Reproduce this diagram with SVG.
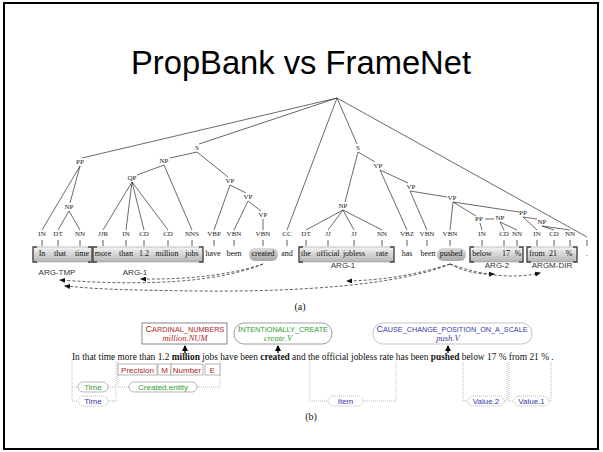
<svg xmlns="http://www.w3.org/2000/svg" width="603" height="452" viewBox="0 0 603 452">
<defs>
<linearGradient id="gb" x1="0" y1="0" x2="0" y2="1">
<stop offset="0" stop-color="#f4f4f4"/><stop offset="1" stop-color="#b4b4b4"/>
</linearGradient>
<linearGradient id="gp" x1="0" y1="0" x2="0" y2="1">
<stop offset="0" stop-color="#dcdcdc"/><stop offset="1" stop-color="#a8a8a8"/>
</linearGradient>
<marker id="ah" markerWidth="6" markerHeight="5" refX="5" refY="2.5" orient="auto" markerUnits="userSpaceOnUse">
<path d="M0,0 L6,2.5 L0,5 z" fill="#111"/>
</marker>
<marker id="ahb" markerWidth="6" markerHeight="6" refX="5" refY="3" orient="auto" markerUnits="userSpaceOnUse">
<path d="M0,0 L6,3 L0,6 z" fill="#000"/>
</marker>
</defs>
<style>
.title{font-family:"Liberation Sans",Arial,sans-serif;font-size:33px;fill:#000}
.tree{stroke:#3a3a3a;stroke-width:0.75;fill:none}
.nl{font-family:"Liberation Serif",serif;font-size:7px;fill:#222;text-anchor:middle}
.wd{font-family:"Liberation Serif",serif;font-size:8px;fill:#111;text-anchor:middle}
.tick{stroke:#333;stroke-width:0.8}
.box{fill:url(#gb);stroke:#999;stroke-width:0.6}
.brk{fill:none;stroke:#444;stroke-width:1.3}
.pill{fill:url(#gp);stroke:none}
.arg{font-family:"Liberation Sans",Arial,sans-serif;font-size:8px;fill:#333;text-anchor:middle}
.da{fill:none;stroke:#333;stroke-width:0.8;stroke-dasharray:3,2}
.cap{font-family:"Liberation Serif",serif;font-size:10px;fill:#111;text-anchor:middle}
.sent{font-family:"Liberation Serif",serif;font-size:9.4px;fill:#111}
.fr{font-family:"Liberation Sans",Arial,sans-serif;text-anchor:middle}
.lu{font-family:"Liberation Serif",serif;font-style:italic;font-size:8.5px;text-anchor:middle}
.dot{fill:none;stroke:#999;stroke-width:0.7;stroke-dasharray:1,1}
.fe{font-family:"Liberation Sans",Arial,sans-serif;font-size:8px;text-anchor:middle}
.feb{fill:#fff;stroke:#888;stroke-width:0.6}
.fep{fill:#fff;stroke:#888;stroke-width:0.6}
.fepd{fill:#fff;stroke:#999;stroke-width:0.7;stroke-dasharray:1,1}
.red{fill:#b02525}.grn{fill:#2e9e2e}.blu{fill:#3838a8}
</style>
<rect x="4" y="3" width="594" height="446" fill="#fff" stroke="#000" stroke-width="2"/>
<text class="title" x="131" y="74" textLength="340" lengthAdjust="spacingAndGlyphs">PropBank vs FrameNet</text>

<g id="connectors">
<g class="tree">
<path d="M337,98 L82,158 M337,98 L199,144 M337,98 L287,230 M337,98 L357,144 M337,98 L587,237"/>
<path d="M80,166 L42,230 M80,166 L70,203 M69,211 L58,230 M69,211 L80,230"/>
<path d="M197,152 L170,158 M197,152 L228,177 M164,165 L137,175 M164,165 L192,230"/>
<path d="M132,182 L103,230 M132,182 L126,230 M132,182 L144,230 M132,182 L168,230"/>
<path d="M230,185 L214,230 M230,185 L246,193 M248,201 L234,230 M248,201 L261,211 M263,219 L263,230"/>
<path d="M358,152 L345,202 M358,152 L375,162 M343,210 L306,230 M343,210 L328,230 M343,210 L354,230 M343,210 L382,230"/>
<path d="M380,170 L407,230 M380,170 L408,183 M410,191 L427,230 M410,191 L447,197"/>
<path d="M453,202 L450,230 M453,202 L476,216 M453,202 L519,212"/>
<path d="M480,223 L482,230 M485,219 L494,219 M500,222 L504,230 M500,222 L517,230"/>
<path d="M523,217 L537,219 M523,217 L537,230 M542,226 L554,230 M542,226 L570,230"/>
</g>
<g class="tick">
<path d="M42,240 V246 M58,240 V246 M80,240 V246 M103,240 V246 M126,240 V246 M144,240 V246 M168,240 V246 M192,240 V246 M214,240 V246 M234,240 V246 M263,240 V246 M287,240 V246 M306,240 V246 M328,240 V246 M354,240 V246 M382,240 V246 M407,240 V246 M427,240 V246 M450,240 V246 M482,240 V246 M504,240 V246 M517,240 V246 M537,240 V246 M554,240 V246 M570,240 V246 M587,240 V246"/>
</g>
<path class="da" d="M263,264 Q215,280 141,279" marker-end="url(#ah)"/>
<path class="da" d="M263,264 Q200,290 60,280" marker-end="url(#ah)"/>
<path class="da" d="M450,264 C400,285 300,292 200,291 S90,288 65,286" marker-end="url(#ah)"/>
<path class="da" d="M450,264 Q400,280 347,281" marker-end="url(#ah)"/>
<path class="da" d="M450,264 Q470,275 494,274" marker-end="url(#ah)"/>
<path class="da" d="M450,264 Q500,282 540,273" marker-end="url(#ah)"/>
<g stroke="#000" stroke-width="1.3">
<path d="M185,353 V346" marker-end="url(#ahb)"/>
<path d="M278,353 V346" marker-end="url(#ahb)"/>
<path d="M448,353 V346" marker-end="url(#ahb)"/>
</g>
<path class="dot" d="M72,361 V401 H78 M72,387 H78 M108,387 H116 M108,401 H116 V361"/>
<path class="dot" d="M118,361 V387 H129 M197,387 H220 V361"/>
<path class="dot" d="M310,361 V401 H328 M363,401 H396 V361"/>
<path class="dot" d="M463,362 V401 H468 M504,401 H507 V362"/>
<path class="dot" d="M509,362 V401 H514 M549,401 H551 V362"/>
</g>

<g id="tree-labels">
<text class="nl" x="80" y="164">PP</text>
<text class="nl" x="69" y="209">NP</text>
<text class="nl" x="197" y="150">S</text>
<text class="nl" x="164" y="163">NP</text>
<text class="nl" x="132" y="180">QP</text>
<text class="nl" x="230" y="183">VP</text>
<text class="nl" x="248" y="199">VP</text>
<text class="nl" x="263" y="217">VP</text>
<text class="nl" x="358" y="150">S</text>
<text class="nl" x="343" y="208">NP</text>
<text class="nl" x="378" y="168">VP</text>
<text class="nl" x="411" y="189">VP</text>
<text class="nl" x="452" y="200">VP</text>
<text class="nl" x="479" y="221">PP</text>
<text class="nl" x="500" y="220">NP</text>
<text class="nl" x="523" y="215">PP</text>
<text class="nl" x="542" y="224">NP</text>
<g class="nl">
<text x="42" y="236">IN</text><text x="58" y="236">DT</text><text x="80" y="236">NN</text>
<text x="103" y="236">JJR</text><text x="126" y="236">IN</text><text x="144" y="236">CD</text><text x="168" y="236">CD</text><text x="192" y="236">NNS</text>
<text x="214" y="236">VBP</text><text x="234" y="236">VBN</text><text x="263" y="236">VBN</text><text x="287" y="236">CC</text>
<text x="306" y="236">DT</text><text x="328" y="236">JJ</text><text x="354" y="236">JJ</text><text x="382" y="236">NN</text>
<text x="407" y="236">VBZ</text><text x="427" y="236">VBN</text><text x="450" y="236">VBN</text>
<text x="482" y="236">IN</text><text x="504" y="236">CD</text><text x="517" y="236">NN</text>
<text x="537" y="236">IN</text><text x="554" y="236">CD</text><text x="570" y="236">NN</text>
</g>
</g>

<g id="arg-boxes">
<rect class="box" x="33" y="247" width="59" height="15"/>
<path class="brk" d="M37,247 H33 V262 H37 M88,247 H92 V262 H88"/>
<rect class="box" x="93" y="247" width="110" height="15"/>
<path class="brk" d="M97,247 H93 V262 H97 M199,247 H203 V262 H199"/>
<rect class="box" x="299" y="247" width="95" height="15"/>
<path class="brk" d="M303,247 H299 V262 H303 M390,247 H394 V262 H390"/>
<rect class="box" x="470" y="247" width="53" height="15"/>
<path class="brk" d="M474,247 H470 V262 H474 M519,247 H523 V262 H519"/>
<rect class="box" x="527" y="247" width="50" height="15"/>
<path class="brk" d="M531,247 H527 V262 H531 M573,247 H577 V262 H573"/>
<rect class="pill" x="249" y="248" width="29" height="13" rx="6"/>
<rect class="pill" x="437" y="248" width="29" height="13" rx="6"/>
</g>

<g id="words-a" class="wd">
<text x="42" y="256">In</text><text x="60" y="256">that</text><text x="82" y="256">time</text>
<text x="103" y="256">more</text><text x="126" y="256">than</text><text x="144" y="256">1.2</text><text x="167" y="256">million</text><text x="192" y="256">jobs</text>
<text x="213" y="256">have</text><text x="234" y="256">been</text><text x="263" y="256">created</text><text x="287" y="256">and</text>
<text x="306" y="256">the</text><text x="328" y="256">official</text><text x="354" y="256">jobless</text><text x="382" y="256">rate</text>
<text x="407" y="256">has</text><text x="428" y="256">been</text><text x="451" y="256">pushed</text>
<text x="482" y="256">below</text><text x="506" y="256">17</text><text x="518" y="256">%</text>
<text x="537" y="256">from</text><text x="553" y="256">21</text><text x="569" y="256">%</text><text x="587" y="256">.</text>
</g>

<g id="arg-labels" class="arg">
<text x="57" y="275">ARG-TMP</text>
<text x="135" y="275">ARG-1</text>
<text x="343" y="268">ARG-1</text>
<text x="497" y="268">ARG-2</text>
<text x="552" y="268">ARGM-DIR</text>
</g>
<text class="cap" x="300" y="310">(a)</text>

<g id="frame-cardinal">
<rect x="142" y="323" width="85" height="21" fill="#fff" stroke="#555" stroke-width="0.7"/>
<text class="fr red" x="185" y="332" textLength="79" lengthAdjust="spacingAndGlyphs"><tspan font-size="8.5">C</tspan><tspan font-size="6.8">ARDINAL_NUMBERS</tspan></text>
<text class="lu red" x="185" y="341">million.NUM</text>
</g>
<g id="frame-create">
<rect x="234" y="323" width="98" height="21" rx="10" fill="#fff" stroke="#777" stroke-width="0.7"/>
<text class="fr grn" x="283" y="332" textLength="90" lengthAdjust="spacingAndGlyphs"><tspan font-size="8.5">I</tspan><tspan font-size="6.8">NTENTIONALLY_CREATE</tspan></text>
<text class="lu grn" x="278" y="341">create.V</text>
</g>
<g id="frame-cause">
<rect x="373" y="323" width="159" height="21" rx="10" fill="#fff" stroke="#aaa" stroke-width="0.7"/>
<text class="fr blu" x="452" y="332" textLength="151" lengthAdjust="spacingAndGlyphs"><tspan font-size="8.5">C</tspan><tspan font-size="6.8">AUSE_CHANGE_POSITION_ON_A_SCALE</tspan></text>
<text class="lu blu" x="448" y="341">push.V</text>
</g>

<text class="sent" x="72" y="360">In that time more than 1.2 <tspan font-weight="bold">million</tspan> jobs have been <tspan font-weight="bold">created</tspan> and the official jobless rate has been <tspan font-weight="bold">pushed</tspan> below 17 % from 21 % .</text>

<g id="fe-cardinal">
<rect class="feb" x="118" y="364" width="39" height="11"/><text class="fe red" x="137.5" y="372.5">Precision</text>
<rect class="feb" x="158" y="364" width="13" height="11"/><text class="fe red" x="164.5" y="372.5">M</text>
<rect class="feb" x="171" y="364" width="32" height="11"/><text class="fe red" x="187" y="372.5">Number</text>
<rect class="feb" x="205" y="364" width="15" height="11"/><text class="fe red" x="212.5" y="372.5">E</text>
</g>
<g id="fe-time1"><rect class="fep" x="78" y="382" width="30" height="10" rx="5"/><text class="fe grn" x="93" y="390">Time</text></g>
<g id="fe-time2"><rect class="fepd" x="78" y="396" width="30" height="10" rx="5"/><text class="fe blu" x="93" y="404">Time</text></g>
<g id="fe-created"><rect class="fep" x="129" y="382" width="68" height="10" rx="5"/><text class="fe grn" x="163" y="390">Created.entity</text></g>
<g id="fe-item"><rect class="fepd" x="328" y="396" width="35" height="10" rx="5"/><text class="fe blu" x="345.5" y="404">Item</text></g>
<g id="fe-value2"><rect class="fepd" x="468" y="396" width="36" height="10" rx="5"/><text class="fe blu" x="486" y="404">Value.2</text></g>
<g id="fe-value1"><rect class="fepd" x="514" y="396" width="35" height="10" rx="5"/><text class="fe blu" x="531.5" y="404">Value.1</text></g>
<text class="cap" x="311" y="420">(b)</text>
</svg>
